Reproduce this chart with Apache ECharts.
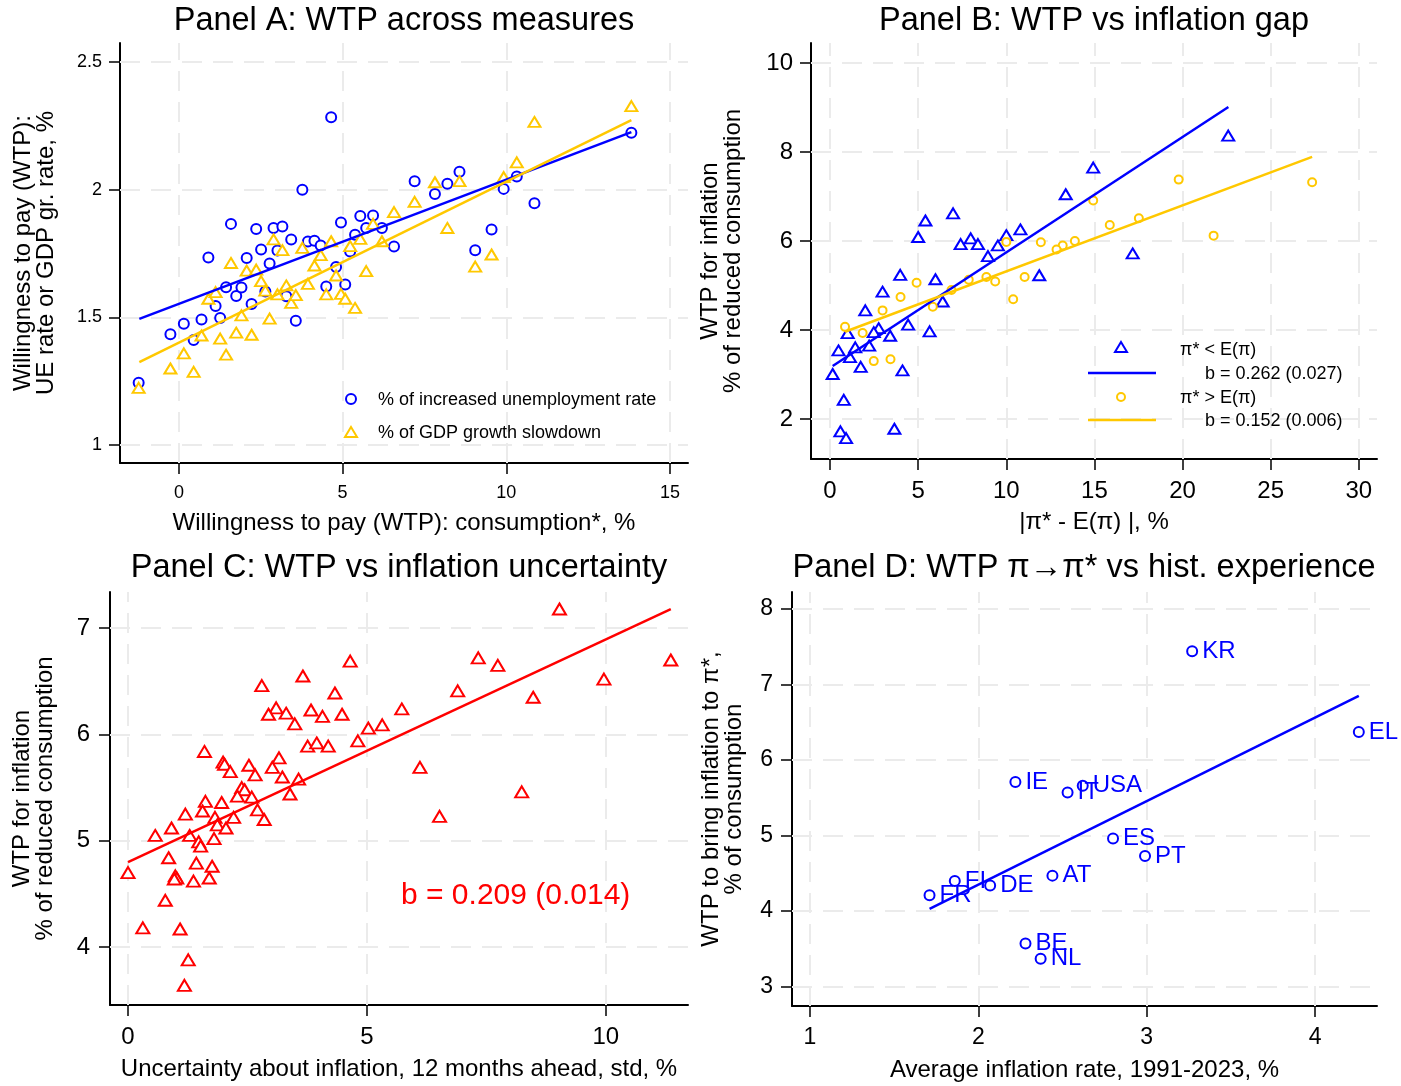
<!DOCTYPE html>
<html>
<head>
<meta charset="utf-8">
<script src="https://cdn.jsdelivr.net/npm/echarts@6/dist/echarts.min.js"></script>
<style>
html,body{margin:0;padding:0;background:#fff;}
#chart{width:1401px;height:1086px;}
</style>
</head>
<body>
<div id="chart"></div>
<script>
// ---------------- DATA ----------------
// Panel A: WTP across measures (shared x = WTP consumption)
const panelA_consumption = [-1.23,-0.26,0.15,0.45,0.69,0.90,1.12,1.26,1.44,1.59,1.75,1.91,2.07,2.22,2.36,2.51,2.64,2.77,2.89,3.01,3.16,3.28,3.43,3.57,3.77,3.94,4.14,4.33,4.50,4.65,4.80,4.95,5.08,5.23,5.38,5.54,5.72,5.93,6.20,6.57,7.20,7.82,8.20,8.57,9.05,9.55,9.92,10.32,10.86,13.82];
const panelA_unemployment = [1.244,1.434,1.475,1.411,1.492,1.734,1.545,1.498,1.618,1.866,1.584,1.617,1.732,1.552,1.846,1.766,1.601,1.711,1.850,1.762,1.856,1.583,1.805,1.487,2.000,1.797,1.800,1.781,1.621,2.283,1.697,1.871,1.629,1.758,1.823,1.897,1.850,1.899,1.850,1.777,2.033,1.983,2.023,2.070,1.763,1.844,2.003,2.051,1.947,2.223];
const panelA_gdp = [1.224,1.300,1.359,1.287,1.429,1.573,1.599,1.417,1.354,1.713,1.440,1.508,1.683,1.432,1.687,1.642,1.605,1.495,1.805,1.590,1.763,1.625,1.557,1.587,1.772,1.631,1.703,1.744,1.590,1.798,1.664,1.592,1.573,1.779,1.537,1.807,1.681,1.866,1.798,1.912,1.952,2.029,1.850,2.033,1.699,1.746,2.049,2.107,2.265,2.327];
const panelA_fitUE_x = [-1.21, 13.82];
const panelA_fitUE_y = [1.494, 2.225];
const panelA_fitGDP_x = [-1.21, 13.82];
const panelA_fitGDP_y = [1.325, 2.272];

// Panel B: WTP vs inflation gap
const panelB_below_gap = [22.59,14.93,13.37,6.98,5.41,5.00,10.80,10.00,7.98,7.41,8.39,9.52,8.96,17.17,11.87,3.98,5.98,2.98,6.39,2.00,4.43,5.65,2.76,2.48,1.00,3.41,1.43,2.22,0.48,1.13,1.74,4.11,0.15,0.78,3.65,0.59,0.91];
const panelB_below_wtp = [8.37,7.65,7.05,6.62,6.46,6.09,6.26,6.13,6.06,5.93,5.93,5.90,5.66,5.72,5.23,5.24,5.14,4.86,4.64,4.44,4.12,3.97,4.04,3.95,3.93,3.87,3.61,3.65,3.54,3.39,3.17,3.09,3.01,2.43,1.78,1.72,1.57];
const panelB_above_gap = [27.35,19.78,14.93,17.52,15.87,21.76,10.00,11.96,13.89,13.20,12.85,7.87,8.87,9.37,11.04,4.91,6.89,4.00,10.39,5.83,2.98,0.85,1.85,2.48,3.43];
const panelB_above_wtp = [7.32,7.38,6.91,6.51,6.36,6.12,5.98,5.97,6.00,5.90,5.81,5.13,5.19,5.09,5.19,5.06,4.90,4.74,4.69,4.52,4.44,4.07,3.93,3.30,3.34];
const panelB_fitBelow_x = [0.15, 22.6];
const panelB_fitBelow_y = [3.19, 9.01];
const panelB_fitAbove_x = [0.85, 27.35];
const panelB_fitAbove_y = [3.96, 7.89];

// Panel C: WTP vs inflation uncertainty
const panelC_uncertainty = [9.03,7.33,7.74,11.36,9.96,4.65,3.66,2.80,6.90,8.48,4.33,3.10,2.94,3.31,3.83,4.07,4.48,3.49,5.73,5.32,5.03,4.81,3.76,3.95,4.19,1.60,6.11,1.99,2.02,2.14,2.53,2.66,3.16,3.02,3.23,3.57,2.38,2.44,2.29,2.59,3.39,8.24,1.62,1.96,1.56,1.20,1.82,2.21,2.71,2.85,1.87,2.05,6.52,0.91,0.57,1.29,1.80,1.48,1.52,0.85,1.43,1.76,0.00,0.99,1.02,0.97,1.37,1.70,0.78,0.31,1.09,1.26,1.18];
const panelC_wtp = [7.18,6.72,6.65,6.70,6.52,6.69,6.55,6.46,6.41,6.35,6.39,6.25,6.19,6.20,6.23,6.17,6.19,6.10,6.24,6.09,6.06,5.94,5.89,5.92,5.89,5.84,5.69,5.74,5.72,5.65,5.71,5.62,5.78,5.69,5.60,5.58,5.50,5.48,5.42,5.41,5.44,5.46,5.37,5.36,5.28,5.25,5.22,5.22,5.29,5.20,5.15,5.12,5.23,5.12,5.05,5.05,5.02,4.99,4.95,4.84,4.79,4.76,4.70,4.67,4.65,4.64,4.62,4.65,4.44,4.18,4.17,3.88,3.64];
const panelC_fit_x = [0, 11.36];
const panelC_fit_y = [4.80, 7.18];

// Panel D: WTP vs historical experience
const panelD_countries = ['KR','EL','IE','USA','IT','ES','PT','AT','FI','DE','FR','BE','NL'];
const panelD_avgInflation = [3.27,4.26,2.22,2.62,2.53,2.80,2.99,2.44,1.86,2.07,1.71,2.28,2.37];
const panelD_wtp = [7.44,6.37,5.71,5.66,5.57,4.96,4.73,4.47,4.40,4.34,4.21,3.57,3.37];
const panelD_fit_x = [1.71, 4.26];
const panelD_fit_y = [4.03, 6.85];

// Tick values
const ticksA_x = [0,5,10,15];
const ticksA_y = [1,1.5,2,2.5];
const ticksB_x = [0,5,10,15,20,25,30];
const ticksB_y = [2,4,6,8,10];
const ticksC_x = [0,5,10];
const ticksC_y = [4,5,6,7];
const ticksD_x = [1,2,3,4];
const ticksD_y = [3,4,5,6,7,8];

// ---------------- CHART ----------------
const FONT = '"Liberation Sans", Arial, Helvetica, sans-serif';
const BLUE = '#0000ff';
const GOLD = '#ffc800';
const RED = '#ff0000';
const GRIDC = '#ebebeb';

const zip = (a, b) => a.map((v, i) => [v, b[i]]);

function xAx(gi, min, max, ticks, fs, margin, name, gap) {
  return {
    type: 'value', gridIndex: gi, min, max,
    axisLine: {show: true, onZero: false, lineStyle: {color: '#000', width: 2}},
    axisTick: {show: true, length: 11, customValues: ticks, lineStyle: {color: '#000', width: 1.5}},
    axisLabel: {show: true, customValues: ticks, fontSize: fs, fontFamily: FONT, color: '#000', margin},
    splitLine: {show: false},
    name, nameLocation: 'middle', nameGap: gap,
    nameTextStyle: {fontSize: 24, fontFamily: FONT, color: '#000'}
  };
}
function yAx(gi, min, max, ticks, fs, margin, name, gap) {
  const a = xAx(gi, min, max, ticks, fs, margin, name, gap);
  a.nameRotate = 90;
  a.nameTextStyle.lineHeight = 23;
  return a;
}
function gridLines(xi, yi, xt, yt) {
  return {
    type: 'line', xAxisIndex: xi, yAxisIndex: yi, data: [], silent: true, z: 1,
    markLine: {
      silent: true, symbol: 'none', animation: false, z: 1,
      label: {show: false},
      lineStyle: {color: GRIDC, width: 2, type: [20, 11]},
      data: xt.map(v => ({xAxis: v})).concat(yt.map(v => ({yAxis: v})))
    }
  };
}
function fitLine(xi, color, xs, ys) {
  return {
    type: 'line', xAxisIndex: xi, yAxisIndex: xi, data: zip(xs, ys),
    symbol: 'none', lineStyle: {color, width: 2.5}, z: 6, animation: false, silent: true
  };
}
function scatter(xi, color, symbol, size, data, extra) {
  return Object.assign({
    type: 'scatter', xAxisIndex: xi, yAxisIndex: xi, data,
    symbol, symbolSize: size,
    itemStyle: {color: color, borderColor: color, borderWidth: 2, opacity: 1},
    z: 5, animation: false
  }, extra || {});
}

function txt(x, y, text, size, color, align) {
  return {
    type: 'text', x, y, z: 100, silent: true,
    style: {text, fontSize: size, fontFamily: FONT, fill: color || '#000',
            align: align || 'left', verticalAlign: 'middle'}
  };
}
function tri(cx, cy, w, h, color) {
  return {type: 'polygon', silent: true, z: 100,
    shape: {points: [[cx, cy - h/2], [cx + w/2, cy + h/2], [cx - w/2, cy + h/2]]},
    style: {fill: 'none', stroke: color, lineWidth: 2}};
}
function circ(cx, cy, r, color) {
  return {type: 'circle', silent: true, z: 100, shape: {cx, cy, r},
    style: {fill: 'none', stroke: color, lineWidth: 2}};
}
function seg(x1, y1, x2, y2, color) {
  return {type: 'line', silent: true, z: 100, shape: {x1, y1, x2, y2},
    style: {stroke: color, lineWidth: 2.5}};
}

const option = {
  backgroundColor: '#fff',
  animation: false,
  grid: [
    {left: 120, top: 43, width: 568, height: 420},
    {left: 811, top: 43, width: 566, height: 416},
    {left: 110, top: 592, width: 578, height: 413},
    {left: 792, top: 592, width: 585, height: 414}
  ],
  xAxis: [
    xAx(0, -1.80, 15.55, ticksA_x, 18, 21, 'Willingness to pay (WTP): consumption*, %', 48),
    xAx(1, -1.08, 31.03, ticksB_x, 24, 20, '|π* - E(π) |, %', 51),
    xAx(2, -0.377, 11.72, ticksC_x, 24, 20, 'Uncertainty about inflation, 12 months ahead, std, %', 52),
    xAx(3, 0.893, 4.368, ticksD_x, 23, 20, 'Average inflation rate, 1991-2023, %', 52)
  ],
  yAxis: [
    yAx(0, 0.93, 2.574, ticksA_y, 18, 18, 'Willingness to pay (WTP):\nUE rate or GDP gr. rate, %', 62),
    yAx(1, 1.10, 10.45, ticksB_y, 24, 18, 'WTP for inflation\n% of reduced consumption', 66),
    yAx(2, 3.455, 7.34, ticksC_y, 24, 20, 'WTP for inflation\n% of reduced consumption', 53),
    yAx(3, 2.744, 8.225, ticksD_y, 23, 19, 'WTP to bring inflation to π*,\n% of consumption', 46)
  ],
  series: [
    gridLines(0, 0, ticksA_x, ticksA_y),
    gridLines(1, 1, ticksB_x, ticksB_y),
    gridLines(2, 2, ticksC_x, ticksC_y),
    gridLines(3, 3, ticksD_x, ticksD_y),
    // Panel A
    scatter(0, BLUE, 'emptyCircle', 10, zip(panelA_consumption, panelA_unemployment)),
    scatter(0, GOLD, 'emptyTriangle', [12, 10], zip(panelA_consumption, panelA_gdp)),
    fitLine(0, BLUE, panelA_fitUE_x, panelA_fitUE_y),
    fitLine(0, GOLD, panelA_fitGDP_x, panelA_fitGDP_y),
    // Panel B
    scatter(1, BLUE, 'emptyTriangle', [12, 10], zip(panelB_below_gap, panelB_below_wtp)),
    scatter(1, GOLD, 'emptyCircle', 8, zip(panelB_above_gap, panelB_above_wtp)),
    fitLine(1, BLUE, panelB_fitBelow_x, panelB_fitBelow_y),
    fitLine(1, GOLD, panelB_fitAbove_x, panelB_fitAbove_y),
    // Panel C
    scatter(2, RED, 'emptyTriangle', [13, 11], zip(panelC_uncertainty, panelC_wtp)),
    fitLine(2, RED, panelC_fit_x, panelC_fit_y),
    // Panel D
    scatter(3, BLUE, 'emptyCircle', 10,
      panelD_countries.map((c, i) => ({name: c, value: [panelD_avgInflation[i], panelD_wtp[i]]})),
      {label: {show: true, position: 'right', distance: 4, formatter: p => p.name,
               color: BLUE, fontSize: 24, fontFamily: FONT}}),
    fitLine(3, BLUE, panelD_fit_x, panelD_fit_y)
  ],
  graphic: [
    txt(404, 21, 'Panel A: WTP across measures', 32.5, '#000', 'center'),
    txt(1094, 21, 'Panel B: WTP vs inflation gap', 32.5, '#000', 'center'),
    txt(399, 568, 'Panel C: WTP vs inflation uncertainty', 32.5, '#000', 'center'),
    txt(1084, 568, 'Panel D: WTP π→π* vs hist. experience', 32.5, '#000', 'center'),
    // Panel A legend
    circ(351, 399, 5, BLUE),
    txt(378, 400, '% of increased unemployment rate', 18),
    tri(351, 432, 12, 10, GOLD),
    txt(378, 433, '% of GDP growth slowdown', 18),
    // Panel B legend
    tri(1121, 347, 12, 10, BLUE),
    txt(1180, 350, 'π* < E(π)', 18),
    seg(1088, 373, 1156, 373, BLUE),
    txt(1205, 374, 'b = 0.262 (0.027)', 18),
    circ(1121, 397, 4, GOLD),
    txt(1180, 398, 'π* > E(π)', 18),
    seg(1088, 420, 1156, 420, GOLD),
    txt(1205, 421, 'b = 0.152 (0.006)', 18),
    // Panel C annotation
    txt(401, 896, 'b = 0.209 (0.014)', 30, RED)
  ]
};

const chart = echarts.init(document.getElementById('chart'), null, {renderer: 'canvas'});
chart.setOption(option);
</script>
</body>
</html>
